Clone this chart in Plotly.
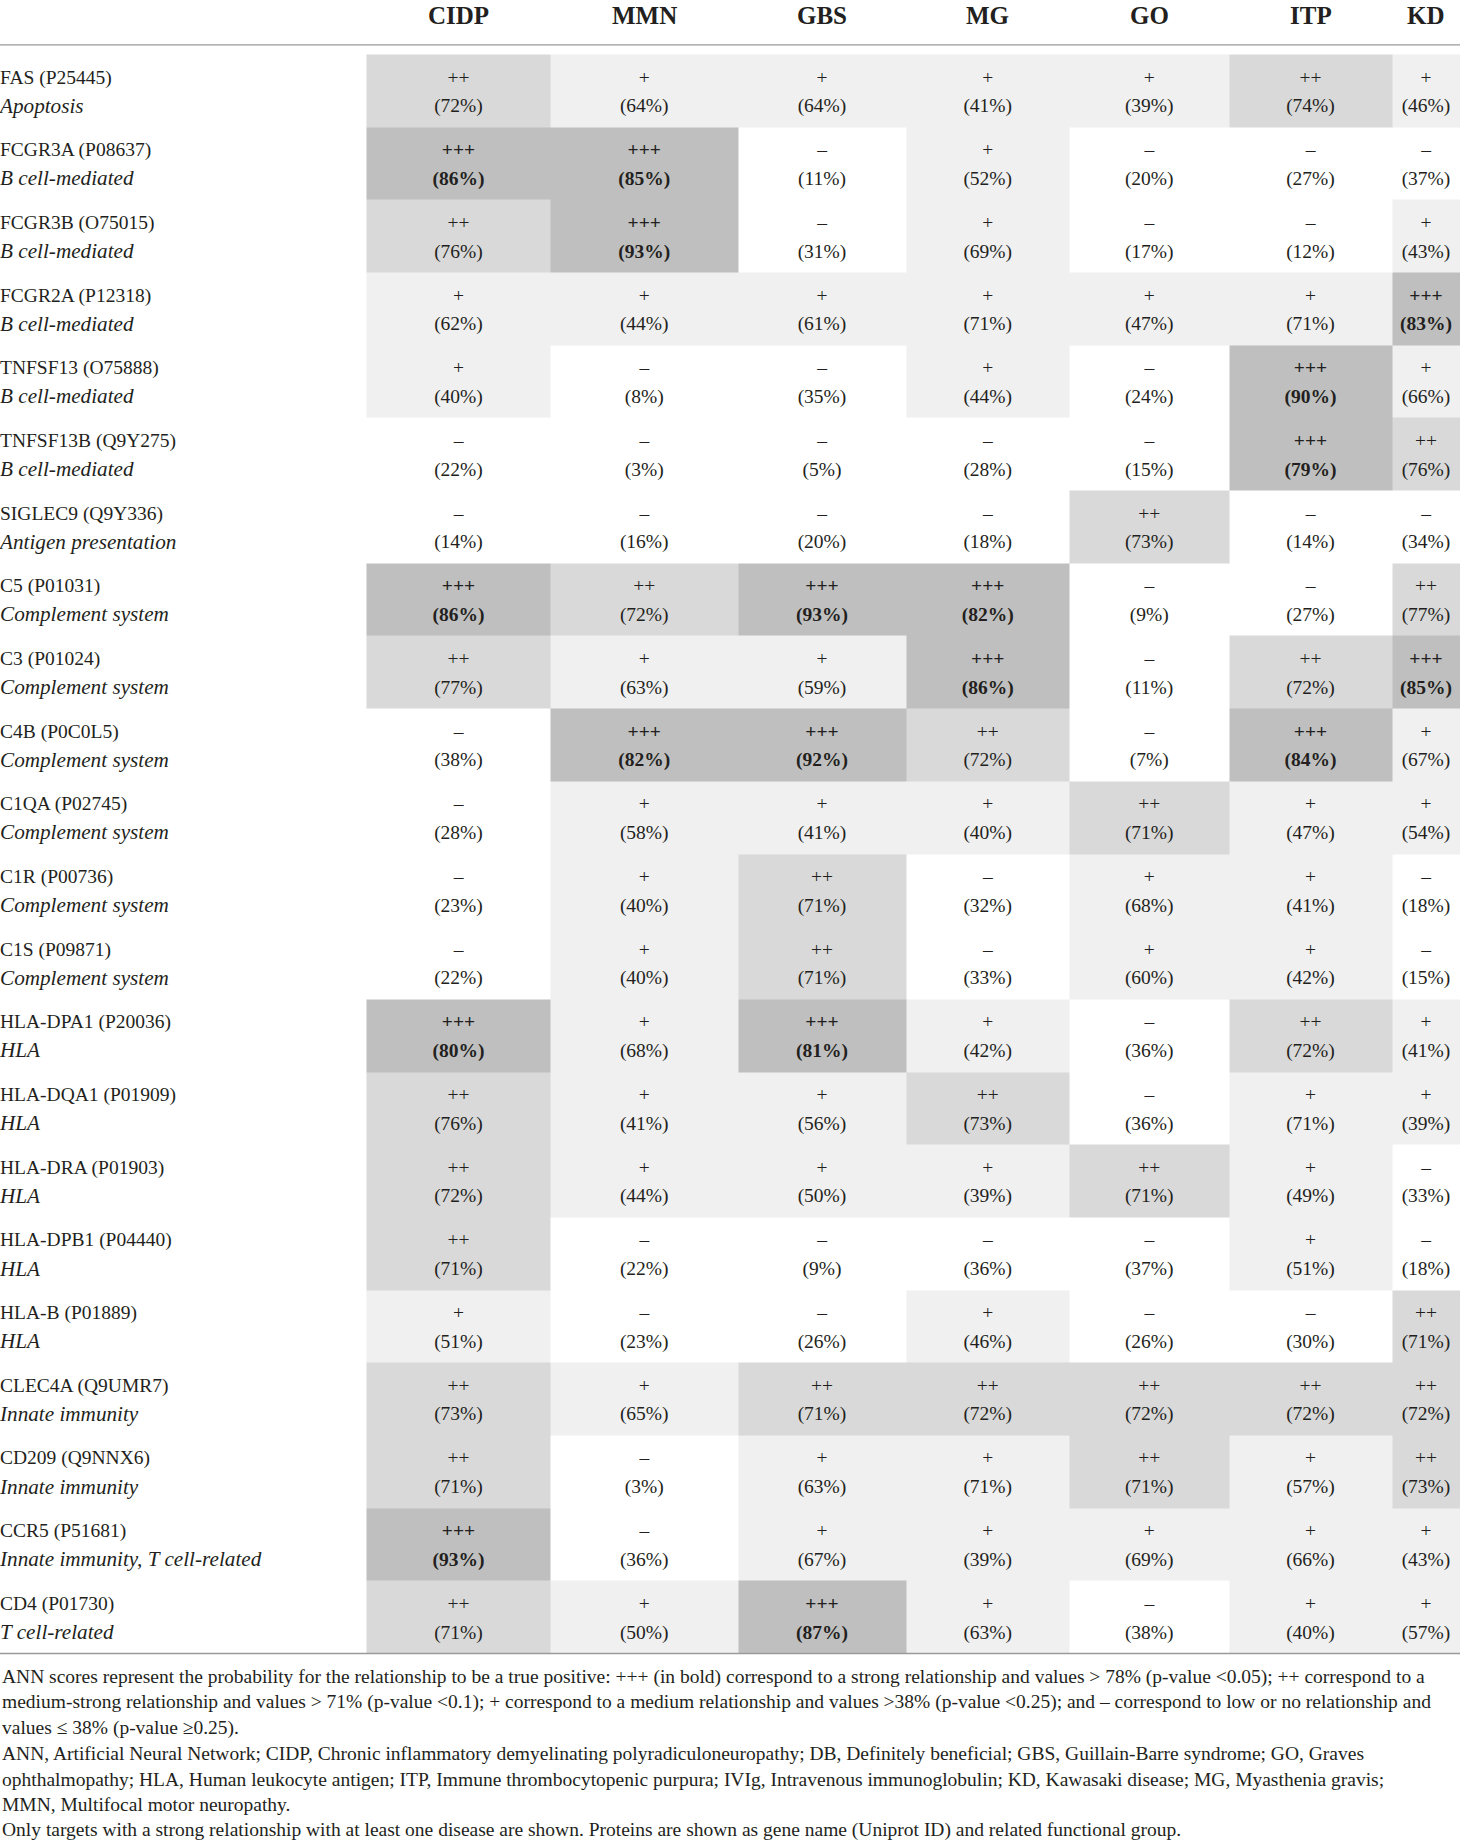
import plotly.graph_objects as go

diseases = ["CIDP", "MMN", "GBS", "MG", "GO", "ITP", "KD"]

genes = ["FAS (P25445)", "FCGR3A (P08637)", "FCGR3B (O75015)", "FCGR2A (P12318)",
         "TNFSF13 (O75888)", "TNFSF13B (Q9Y275)", "SIGLEC9 (Q9Y336)", "C5 (P01031)",
         "C3 (P01024)", "C4B (P0C0L5)", "C1QA (P02745)", "C1R (P00736)", "C1S (P09871)",
         "HLA-DPA1 (P20036)", "HLA-DQA1 (P01909)", "HLA-DRA (P01903)", "HLA-DPB1 (P04440)",
         "HLA-B (P01889)", "CLEC4A (Q9UMR7)", "CD209 (Q9NNX6)", "CCR5 (P51681)", "CD4 (P01730)"]

groups = ["Apoptosis", "B cell-mediated", "B cell-mediated", "B cell-mediated",
          "B cell-mediated", "B cell-mediated", "Antigen presentation", "Complement system",
          "Complement system", "Complement system", "Complement system", "Complement system",
          "Complement system", "HLA", "HLA", "HLA", "HLA", "HLA", "Innate immunity",
          "Innate immunity", "Innate immunity, T cell-related", "T cell-related"]

cidp_pct = [72, 86, 76, 62, 40, 22, 14, 86, 77, 38, 28, 23, 22, 80, 76, 72, 71, 51, 73, 71, 93, 71]
cidp_grade = ["++", "+++", "++", "+", "+", "–", "–", "+++", "++", "–", "–", "–", "–",
              "+++", "++", "++", "++", "+", "++", "++", "+++", "++"]

mmn_pct = [64, 85, 93, 44, 8, 3, 16, 72, 63, 82, 58, 40, 40, 68, 41, 44, 22, 23, 65, 3, 36, 50]
mmn_grade = ["+", "+++", "+++", "+", "–", "–", "–", "++", "+", "+++", "+", "+", "+",
             "+", "+", "+", "–", "–", "+", "–", "–", "+"]

gbs_pct = [64, 11, 31, 61, 35, 5, 20, 93, 59, 92, 41, 71, 71, 81, 56, 50, 9, 26, 71, 63, 67, 87]
gbs_grade = ["+", "–", "–", "+", "–", "–", "–", "+++", "+", "+++", "+", "++", "++",
             "+++", "+", "+", "–", "–", "++", "+", "+", "+++"]

mg_pct = [41, 52, 69, 71, 44, 28, 18, 82, 86, 72, 40, 32, 33, 42, 73, 39, 36, 46, 72, 71, 39, 63]
mg_grade = ["+", "+", "+", "+", "+", "–", "–", "+++", "+++", "++", "+", "–", "–",
            "+", "++", "+", "–", "+", "++", "+", "+", "+"]

go_pct = [39, 20, 17, 47, 24, 15, 73, 9, 11, 7, 71, 68, 60, 36, 36, 71, 37, 26, 72, 71, 69, 38]
go_grade = ["+", "–", "–", "+", "–", "–", "++", "–", "–", "–", "++", "+", "+",
            "–", "–", "++", "–", "–", "++", "++", "+", "–"]

itp_pct = [74, 27, 12, 71, 90, 79, 14, 27, 72, 84, 47, 41, 42, 72, 71, 49, 51, 30, 72, 57, 66, 40]
itp_grade = ["++", "–", "–", "+", "+++", "+++", "–", "–", "++", "+++", "+", "+", "+",
             "++", "+", "+", "+", "–", "++", "+", "+", "+"]

kd_pct = [46, 37, 43, 83, 66, 76, 34, 77, 85, 67, 54, 18, 15, 41, 39, 33, 18, 71, 72, 73, 43, 57]
kd_grade = ["+", "–", "+", "+++", "+", "++", "–", "++", "+++", "+", "+", "–", "–",
            "+", "+", "–", "–", "++", "++", "++", "+", "+"]

notes = [
    "ANN scores represent the probability for the relationship to be a true positive: +++ (in bold) correspond to a strong relationship and values > 78% (p-value <0.05); ++ correspond to a",
    "medium-strong relationship and values > 71% (p-value <0.1); + correspond to a medium relationship and values >38% (p-value <0.25); and – correspond to low or no relationship and",
    "values ≤ 38% (p-value ≥0.25).",
    "ANN, Artificial Neural Network; CIDP, Chronic inflammatory demyelinating polyradiculoneuropathy; DB, Definitely beneficial; GBS, Guillain-Barre syndrome; GO, Graves",
    "ophthalmopathy; HLA, Human leukocyte antigen; ITP, Immune thrombocytopenic purpura; IVIg, Intravenous immunoglobulin; KD, Kawasaki disease; MG, Myasthenia gravis;",
    "MMN, Multifocal motor neuropathy.",
    "Only targets with a strong relationship with at least one disease are shown. Proteins are shown as gene name (Uniprot ID) and related functional group.",
]

pcts = [cidp_pct, mmn_pct, gbs_pct, mg_pct, go_pct, itp_pct, kd_pct]
grades = [cidp_grade, mmn_grade, gbs_grade, mg_grade, go_grade, itp_grade, kd_grade]

# ---- layout settings (pixels) ----
W, H = 1460, 1841
col_edges = [366.5, 550.5, 738, 906, 1069.5, 1229, 1392, 1460]
table_top, table_bottom = 54.5, 1653.5
header_rule = 44.8
nrows = len(genes)
row_h = (table_bottom - table_top) / nrows
FONT = "Liberation Serif"
INK = "#231f20"
CELL_SIZE = 19.5

grade_code = {"–": 0, "+": 1, "++": 2, "+++": 3}
z = [[grade_code[grades[c][r]] for c in range(len(diseases))] for r in range(nrows)]
centers = [(col_edges[i] + col_edges[i + 1]) / 2 for i in range(len(diseases))]

fig = go.Figure()

fig.add_trace(go.Heatmap(
    z=z, x=col_edges, y=list(range(nrows)),
    zmin=0, zmax=3, showscale=False, hoverinfo="skip",
    colorscale=[[0, "#ffffff"], [0.17, "#ffffff"], [0.17, "#f0f0f0"], [0.5, "#f0f0f0"],
                [0.5, "#d9d9d9"], [0.83, "#d9d9d9"], [0.83, "#bfbfbf"], [1, "#bfbfbf"]],
))

up, down = -12.2 / row_h, 16.5 / row_h

xs, y1, y2, t1, t2 = [], [], [], [], []
for c in range(len(diseases)):
    for r in range(nrows):
        g = grades[c][r]
        p = "(%d%%)" % pcts[c][r]
        if g == "+++":
            g, p = "<b>" + g + "</b>", "<b>" + p + "</b>"
        xs.append(centers[c])
        y1.append(r + up)
        y2.append(r + down)
        t1.append(g)
        t2.append(p)

fig.add_trace(go.Scatter(x=xs, y=y1, text=t1, mode="text", hoverinfo="skip",
                         textfont=dict(family=FONT, size=CELL_SIZE, color=INK)))
fig.add_trace(go.Scatter(x=xs, y=y2, text=t2, mode="text", hoverinfo="skip",
                         textfont=dict(family=FONT, size=CELL_SIZE, color=INK)))

# row labels: gene (Uniprot) and functional group in italics
fig.add_trace(go.Scatter(x=[0] * nrows, y=[r + up for r in range(nrows)], text=genes,
                         mode="text", textposition="middle right", hoverinfo="skip",
                         cliponaxis=False,
                         textfont=dict(family=FONT, size=CELL_SIZE, color=INK)))
fig.add_trace(go.Scatter(x=[0] * nrows, y=[r + down for r in range(nrows)],
                         text=["<i>" + g + "</i>" for g in groups],
                         mode="text", textposition="middle right", hoverinfo="skip",
                         cliponaxis=False,
                         textfont=dict(family=FONT, size=21.2, color=INK)))

# column headers
for d, cx in zip(diseases, centers):
    fig.add_annotation(x=cx, xref="x", y=1 - 15 / H, yref="paper", text="<b>" + d + "</b>",
                       showarrow=False, yanchor="middle",
                       font=dict(family=FONT, size=25, color=INK))

# footnotes
note_y = [1676.5, 1702.3, 1728.3, 1753.5, 1779, 1804.3, 1830]
for txt, ny in zip(notes, note_y):
    fig.add_annotation(x=0, xref="paper", y=1 - ny / H, yref="paper", text=txt,
                       showarrow=False, xanchor="left", yanchor="middle", align="left",
                       font=dict(family=FONT, size=19.5, color=INK))

# horizontal rules
for yy in [header_rule, table_bottom]:
    fig.add_shape(type="line", xref="paper", yref="paper", x0=0, x1=1,
                  y0=1 - yy / H, y1=1 - yy / H, line=dict(color="#9a9a9a", width=1.3))

top_u = -0.5 - table_top / row_h
bot_u = nrows - 0.5 + (H - table_bottom) / row_h

fig.update_xaxes(range=[0, W], visible=False, fixedrange=True)
fig.update_yaxes(range=[bot_u, top_u], visible=False, fixedrange=True)
fig.update_layout(width=W, height=H, margin=dict(l=0, r=0, t=0, b=0),
                  plot_bgcolor="white", paper_bgcolor="white", showlegend=False)

fig.write_html("out.html", config={"displayModeBar": False},
               post_script="document.body.style.margin = '0';")
